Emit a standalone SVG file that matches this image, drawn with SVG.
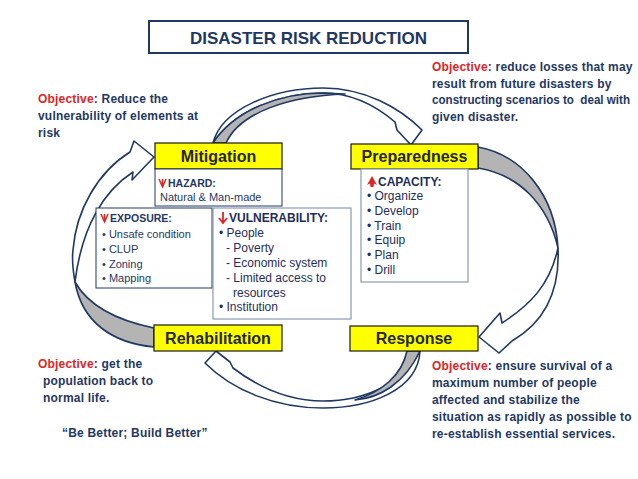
<svg xmlns="http://www.w3.org/2000/svg" width="638" height="479" viewBox="0 0 638 479">
<style>
.t{font-family:"Liberation Sans",Arial,sans-serif}
.obj{font-family:"Liberation Sans",Arial,sans-serif;font-weight:bold;font-size:12px;letter-spacing:0.2px;fill:#1f3864}
.red{fill:#e02424}
.lbl{font-family:"Liberation Sans",Arial,sans-serif;font-weight:bold;font-size:16px;fill:#262626;text-anchor:middle}
.ybox{fill:#ffff00;stroke:#1a1a1a;stroke-width:1.2}
.wbox{fill:#fff;stroke:#1f3864;stroke-width:1}
.gbox{fill:#fff;stroke:#8a9ab2;stroke-width:1.2}
.item{font-family:"Liberation Sans",Arial,sans-serif;font-size:11px;fill:#1f3864}
.item2{font-family:"Liberation Sans",Arial,sans-serif;font-size:12px;fill:#1f2d5a}
.hd{font-family:"Liberation Sans",Arial,sans-serif;font-weight:bold;font-size:10.5px;fill:#1f3864}
.hd2{font-family:"Liberation Sans",Arial,sans-serif;font-weight:bold;font-size:12px;fill:#1f2d5a}
.wa{fill:#fff;stroke:#1f3864;stroke-width:1.6;stroke-linejoin:round}
.ga{fill:#b4b4b4;stroke:#1f3864;stroke-width:1.6;stroke-linejoin:round}
.dn{fill:none;stroke:#e02424;stroke-width:1.5}
</style>
<rect width="638" height="479" fill="#fff"/>

<g id="connectors">
  <!-- top arc: Mitigation -> Preparedness -->
  <path class="wa" d="M213,143 C222,108 275,88 323,88 C365,88 400,108 422,130 L411,145 L397,130 L395,122 C375,105 352,93 323,93 C280,93 235,110 213,143 Z"/>
  <path class="ga" d="M213,143 C235,110 280,93 323,93 L345,94 C290,96 240,112 226,143 Z"/>
  <!-- right arc: Preparedness -> Response -->
  <path class="ga" d="M478,147 C522,155 555,195 558,248 C548,205 520,175 478,168 Z"/>
  <path class="wa" d="M558,248 C560,290 545,322 512,341 L499,353 L479,337 L500,313 L502,323 C530,305 550,285 558,248 Z"/>
  <!-- bottom arc: Response -> Rehabilitation -->
  <path class="wa" d="M420,351 C418,390 370,408 323,408 C275,408 232,390 205,363 L216,351 L230,362 L233,368 C262,390 292,401 323,401 C365,401 400,385 420,351 Z"/>
  <path class="ga" d="M420,351 C405,383 380,398 355,400 C382,392 402,375 407,351 Z"/>
  <!-- left arc: Rehabilitation -> Mitigation -->
  <path class="wa" d="M130,152 L134,141 L154,157 L132,180 L133,172 C105,190 82,225 75,282 C72,265 72,258 73,250 C76,210 98,172 130,152 Z"/>
  <path class="ga" d="M75,282 C82,322 112,343 154,347 L154,328 C115,320 88,305 75,282 Z"/>
</g>

<g id="title">
  <rect x="149" y="21" width="319" height="32" fill="#fff" stroke="#1f3864" stroke-width="2"/>
  <text class="t" x="308.5" y="44" font-size="17" font-weight="bold" fill="#1f3864" text-anchor="middle">DISASTER RISK REDUCTION</text>
</g>

<g id="obj-mitigation">
  <text class="obj" x="38" y="103"><tspan class="red">Objective</tspan>: Reduce the</text>
  <text class="obj" x="38" y="120">vulnerability of elements at</text>
  <text class="obj" x="38" y="137">risk</text>
</g>
<g id="obj-preparedness">
  <text class="obj" x="432" y="71"><tspan class="red">Objective</tspan>: reduce losses that may</text>
  <text class="obj" x="432" y="88">result from future disasters by</text>
  <text class="obj" x="432" y="104" xml:space="preserve" style="letter-spacing:0" textLength="198" lengthAdjust="spacingAndGlyphs">constructing scenarios to  deal with</text>
  <text class="obj" x="432" y="121">given disaster.</text>
</g>
<g id="obj-rehabilitation">
  <text class="obj" x="38" y="368"><tspan class="red">Objective</tspan>: get the</text>
  <text class="obj" x="43" y="385">population back to</text>
  <text class="obj" x="43" y="402">normal life.</text>
  <text class="obj" x="62" y="437">“Be Better; Build Better”</text>
</g>
<g id="obj-response">
  <text class="obj" x="432" y="370"><tspan class="red">Objective</tspan>: ensure survival of a</text>
  <text class="obj" x="432" y="387">maximum number of people</text>
  <text class="obj" x="432" y="404">affected and stabilize the</text>
  <text class="obj" x="432" y="421">situation as rapidly as possible to</text>
  <text class="obj" x="432" y="438">re-establish essential services.</text>
</g>

<g id="mitigation">
  <rect class="ybox" x="155" y="143" width="127" height="26"/>
  <text class="lbl" x="218.5" y="162">Mitigation</text>
</g>
<g id="hazard">
  <rect class="wbox" x="155" y="169" width="127" height="37"/>
  <path class="dn" d="M159,179 L162.5,187 L166,179 M162.5,179 V187"/>
  <text class="hd" x="168" y="187">HAZARD:</text>
  <text class="item" x="160" y="201" font-size="11.5">Natural &amp; Man-made</text>
</g>
<g id="exposure">
  <rect class="wbox" x="96" y="208" width="116" height="80"/>
  <path class="dn" d="M101,214 L104.5,222 L108,214 M104.5,214 V222"/>
  <text class="hd" x="110" y="222">EXPOSURE:</text>
  <text class="item" x="102" y="238">• Unsafe condition</text>
  <text class="item" x="102" y="253">• CLUP</text>
  <text class="item" x="102" y="268">• Zoning</text>
  <text class="item" x="102" y="282">• Mapping</text>
</g>
<g id="vulnerability">
  <rect class="gbox" x="213" y="208" width="138" height="111"/>
  <path d="M223,212 V223 M219,218 L223,223 L227,218" fill="none" stroke="#e02424" stroke-width="1.8"/>
  <text class="hd2" x="229" y="222">VULNERABILITY:</text>
  <text class="item2" x="219" y="237">• People</text>
  <text class="item2" x="226" y="252">- Poverty</text>
  <text class="item2" x="226" y="267">- Economic system</text>
  <text class="item2" x="226" y="282">- Limited access to</text>
  <text class="item2" x="233" y="297">resources</text>
  <text class="item2" x="219" y="311">• Institution</text>
</g>

<g id="preparedness">
  <rect class="ybox" x="351" y="144" width="127" height="25"/>
  <text class="lbl" x="414.5" y="162">Preparedness</text>
</g>
<g id="capacity">
  <rect class="gbox" x="361" y="169" width="107" height="113"/>
  <path d="M372,176 L377,185 L374,183.5 L373.5,187 L370.5,187 L370,183.5 L367,185 Z" fill="#e02424"/>
  <text class="hd2" x="378" y="186">CAPACITY:</text>
  <text class="item2" x="367" y="200">• Organize</text>
  <text class="item2" x="367" y="215">• Develop</text>
  <text class="item2" x="367" y="230">• Train</text>
  <text class="item2" x="367" y="244">• Equip</text>
  <text class="item2" x="367" y="259">• Plan</text>
  <text class="item2" x="367" y="274">• Drill</text>
</g>

<g id="rehabilitation">
  <rect class="ybox" x="154" y="325" width="128" height="26"/>
  <text class="lbl" x="218" y="344">Rehabilitation</text>
</g>
<g id="response">
  <rect class="ybox" x="350" y="326" width="128" height="25"/>
  <text class="lbl" x="414" y="344">Response</text>
</g>
</svg>
